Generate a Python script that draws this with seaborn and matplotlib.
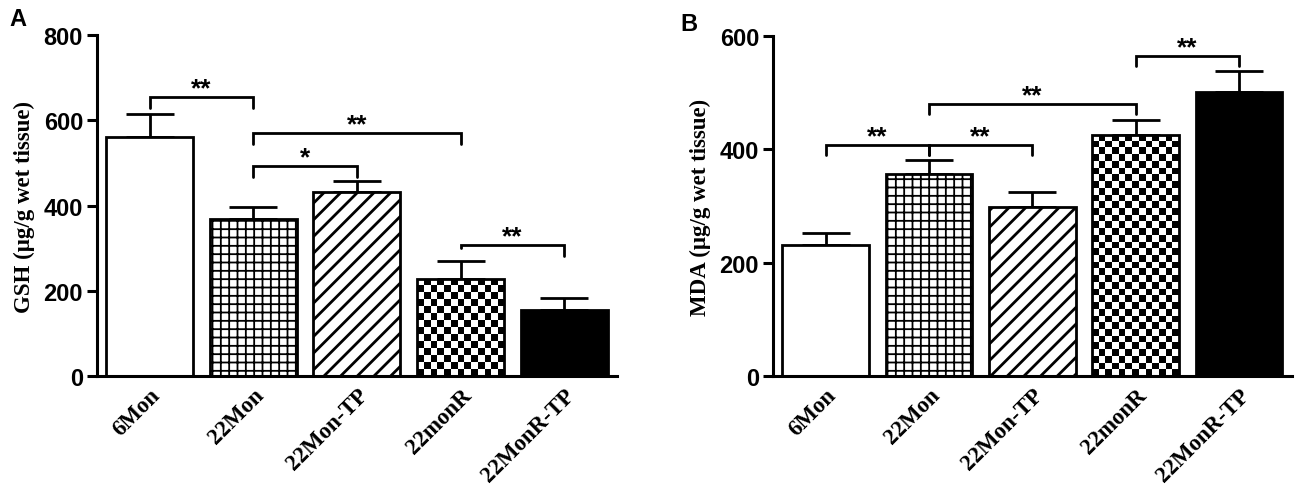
import numpy as np
import pandas as pd
import matplotlib

matplotlib.use("Agg")
import matplotlib.pyplot as plt
import seaborn as sns

# ---------------------------------------------------------------
# data
# ---------------------------------------------------------------
groups = ["6Mon", "22Mon", "22Mon-TP", "22monR", "22MonR-TP"]

gsh_mean = [560, 368, 432, 228, 155]
gsh_sem = [55, 28, 26, 42, 28]

mda_mean = [232, 356, 298, 426, 502]
mda_sem = [20, 25, 26, 26, 36]

# brackets: (left group, right group, height, left leg end, right leg end, label)
gsh_brackets = [
    (0, 1, 654, 628, 628, "**"),
    (1, 3, 570, 545, 545, "**"),
    (1, 2, 492, 468, 468, "*"),
    (3, 4, 307, 300, 281, "**"),
]
mda_brackets = [
    (0, 1, 407, 390, 390, "**"),
    (1, 2, 407, 390, 390, "**"),
    (1, 3, 480, 463, 463, "**"),
    (3, 4, 565, 548, 548, "**"),
]

fills = ["plain", "grid", "diag", "checker", "solid"]

sns.set_style("ticks")
plt.rcParams.update({
    "hatch.color": "black",
    "hatch.linewidth": 1.3,
    "text.color": "black",
    "axes.labelcolor": "black",
    "axes.edgecolor": "black",
    "xtick.color": "black",
    "ytick.color": "black",
})

DPI = 100
fig = plt.figure(figsize=(13, 5.02), dpi=DPI)


def draw_panel(ax, means, sems, ylab, ymax, brackets):
    df = pd.DataFrame({"group": groups, "value": means})
    sns.barplot(data=df, x="group", y="value", order=groups, ax=ax,
                width=0.84, color="white", edgecolor="black", linewidth=2.0,
                saturation=1, errorbar=None)
    ax.errorbar(np.arange(len(groups)), means,
                yerr=[np.zeros(len(sems)), sems], fmt="none",
                ecolor="black", elinewidth=2.0, capsize=17, capthick=2.0,
                zorder=1)
    ax.set_xlim(-0.51, len(groups) - 0.49)
    ax.set_ylim(0, ymax)

    # fills for each bar
    for patch, kind in zip(ax.patches, fills):
        patch.set_zorder(2)
        if kind == "grid":
            patch.set_hatch("++")
        elif kind == "diag":
            patch.set_hatch("//")
            if hasattr(patch, "set_hatch_linewidth"):
                patch.set_hatch_linewidth(2.0)
        elif kind == "solid":
            patch.set_facecolor("black")
        elif kind == "checker":
            patch.set_facecolor("none")
            x0, y0 = patch.get_x(), patch.get_y()
            w, h = patch.get_width(), patch.get_height()
            p0 = ax.transData.transform((x0, y0))
            p1 = ax.transData.transform((x0 + w, y0 + h))
            cell = 6.7
            ncol = max(1, int(round(abs(p1[0] - p0[0]) / cell)))
            nrow = max(1, int(round(abs(p1[1] - p0[1]) / cell)))
            board = (np.indices((nrow, ncol)).sum(axis=0) % 2).astype(float)
            im = ax.imshow(board, cmap="gray", extent=(x0, x0 + w, y0, y0 + h),
                           aspect="auto", interpolation="nearest", zorder=1.9,
                           origin="lower")
            im.set_clip_path(patch)

    ax.set_xlim(-0.51, len(groups) - 0.49)
    ax.set_ylim(0, ymax)

    # significance brackets
    for i, j, yb, yl, yr, lab in brackets:
        ax.plot([i, i, j, j], [yl, yb, yb, yr], color="black", lw=2.0,
                solid_joinstyle="miter", zorder=4, clip_on=False)
        ax.text((i + j) / 2, yb - ymax * 0.009, lab, ha="center", va="bottom",
                fontsize=19, fontweight="bold", family="Liberation Sans")

    sns.despine(ax=ax)
    for s in ("left", "bottom"):
        ax.spines[s].set_linewidth(2.2)
    ax.tick_params(axis="y", width=2.2, length=7, labelsize=17, pad=3)
    ax.tick_params(axis="x", length=0, pad=6)
    ax.set_yticks(np.arange(0, ymax + 1, 200))
    for t in ax.get_yticklabels():
        t.set_fontweight("bold")
        t.set_family("Liberation Sans")
    ax.set_xticks(range(len(groups)))
    ax.set_xticklabels(groups, rotation=45, ha="right", rotation_mode="anchor",
                       fontsize=16.5, fontweight="bold", family="Liberation Serif")
    ax.set_xlabel("")
    ax.set_ylabel(ylab, fontsize=16.5, fontweight="bold",
                  family="Liberation Serif", labelpad=6)


ax_a = fig.add_axes([0.0746, 0.249, 0.400, 0.679])
draw_panel(ax_a, gsh_mean, gsh_sem, "GSH (μg/g wet tissue)", 800, gsh_brackets)

ax_b = fig.add_axes([0.5946, 0.249, 0.399, 0.677])
draw_panel(ax_b, mda_mean, mda_sem, "MDA (μg/g wet tissue)", 600, mda_brackets)

fig.text(0.007, 0.985, "A", fontsize=17, fontweight="bold",
         family="Liberation Sans", va="top")
fig.text(0.523, 0.975, "B", fontsize=17, fontweight="bold",
         family="Liberation Sans", va="top")

fig.savefig("out.png", dpi=DPI)
plt.close(fig)
